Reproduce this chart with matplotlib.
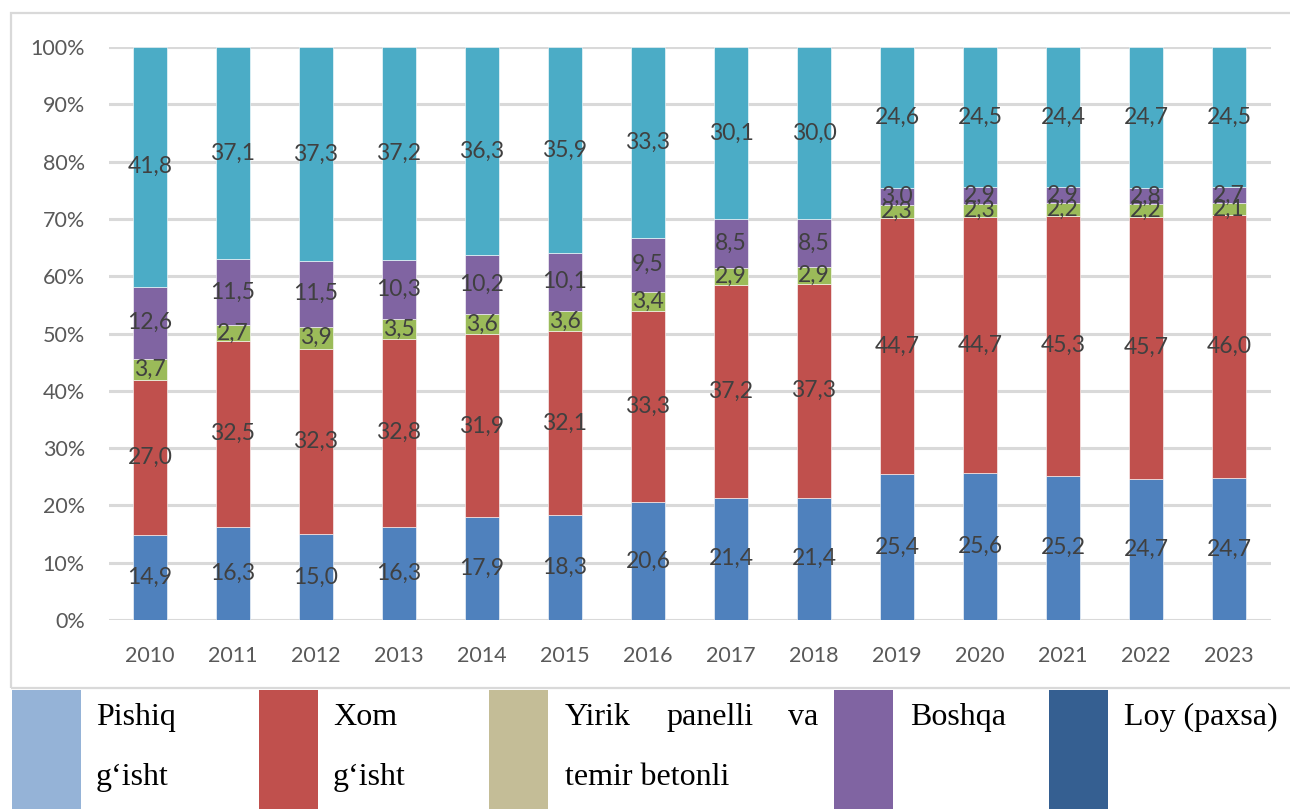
import matplotlib
matplotlib.use("Agg")
import matplotlib.pyplot as plt
import matplotlib.patches as mpatches
import numpy as np

years = ["2010", "2011", "2012", "2013", "2014", "2015", "2016",
         "2017", "2018", "2019", "2020", "2021", "2022", "2023"]
loy = [14.9, 16.3, 15.0, 16.3, 17.9, 18.3, 20.6, 21.4, 21.4, 25.4, 25.6, 25.2, 24.7, 24.7]
xom = [27.0, 32.5, 32.3, 32.8, 31.9, 32.1, 33.3, 37.2, 37.3, 44.7, 44.7, 45.3, 45.7, 46.0]
yirik = [3.7, 2.7, 3.9, 3.5, 3.6, 3.6, 3.4, 2.9, 2.9, 2.3, 2.3, 2.2, 2.2, 2.1]
boshqa = [12.6, 11.5, 11.5, 10.3, 10.2, 10.1, 9.5, 8.5, 8.5, 3.0, 2.9, 2.9, 2.8, 2.7]
pishiq = [41.8, 37.1, 37.3, 37.2, 36.3, 35.9, 33.3, 30.1, 30.0, 24.6, 24.5, 24.4, 24.7, 24.5]

series = [loy, xom, yirik, boshqa, pishiq]
bar_colors = ["#4F81BD", "#C0504D", "#9BBB59", "#8064A2", "#4BACC6"]

legend_labels = [["Pishiq", "g\u2018isht"], ["Xom", "g\u2018isht"],
                 [["Yirik", "panelli", "va"], "temir betonli"], ["Boshqa"], ["Loy (paxsa)"]]
legend_colors = ["#95B3D7", "#C0504D", "#C4BD97", "#8064A2", "#355F91"]

W, H = 1290, 809
fig = plt.figure(figsize=(W / 100, H / 100), dpi=100)

def fx(px):
    return px / W

def fy(py):
    return 1 - py / H

# chart area border
fig.patches.append(mpatches.Rectangle((fx(11), fy(688)), fx(1300) - fx(11), fy(13) - fy(688),
                                      transform=fig.transFigure, fill=False,
                                      edgecolor="#D9D9D9", lw=1.6, zorder=0))

ax = fig.add_axes([fx(108.5), fy(620), fx(1270.5) - fx(108.5), fy(47) - fy(620)])

data = np.array(series, dtype=float)
totals = data.sum(axis=0)
pct = data / totals * 100
x = np.arange(len(years))
bottom = np.zeros(len(years))
for vals, p, c in zip(series, pct, bar_colors):
    ax.bar(x, p, bottom=bottom, width=0.4, color=c, edgecolor="white", linewidth=0.4, zorder=3)
    for xi, v, b, h in zip(x, vals, bottom, p):
        ax.text(xi, b + h / 2, f"{v:.1f}".replace(".", ","), ha="center", va="center",
                fontsize=16.5, color="#404040", family="Lato", zorder=4)
    bottom += p

ax.set_xlim(-0.5, len(years) - 0.5)
ax.set_ylim(0, 100)
ax.set_yticks(np.arange(0, 101, 10))
ax.set_yticklabels([f"{v}%" for v in range(0, 101, 10)])
ax.set_xticks(x)
ax.set_xticklabels(years)
ax.grid(axis="y", color="#D9D9D9", lw=2.2, zorder=0)
ax.set_axisbelow(True)
for s in ax.spines.values():
    s.set_visible(False)
ax.tick_params(axis="both", length=0, labelsize=15.5, labelcolor="#595959")
ax.tick_params(axis="x", pad=19)
ax.tick_params(axis="y", pad=17)
for lab in ax.get_xticklabels() + ax.get_yticklabels():
    lab.set_family("Lato")

# legend blocks (table-like legend below chart)
blocks = [(12, 81), (259, 318), (489, 548), (834, 893), (1049, 1108)]
text_x = [96, 333, 565, 910, 1124]
for (x0, x1), c, tx, lines in zip(blocks, legend_colors, text_x, legend_labels):
    fig.patches.append(mpatches.Rectangle((fx(x0), 0), fx(x1) - fx(x0), fy(690),
                                          transform=fig.transFigure, color=c, lw=0))
    for i, line in enumerate(lines):
        yb = fy(725 + 60 * i)
        kw = dict(va="baseline", fontsize=23, family="Liberation Serif", color="black")
        if isinstance(line, list):
            # justified line: first word left, middle centered, last right
            fig.text(fx(tx), yb, line[0], ha="left", **kw)
            fig.text(fx(710), yb, line[1], ha="center", **kw)
            fig.text(fx(818), yb, line[2], ha="right", **kw)
        else:
            fig.text(fx(tx), yb, line, ha="left", **kw)

fig.savefig("out.png", dpi=100)
